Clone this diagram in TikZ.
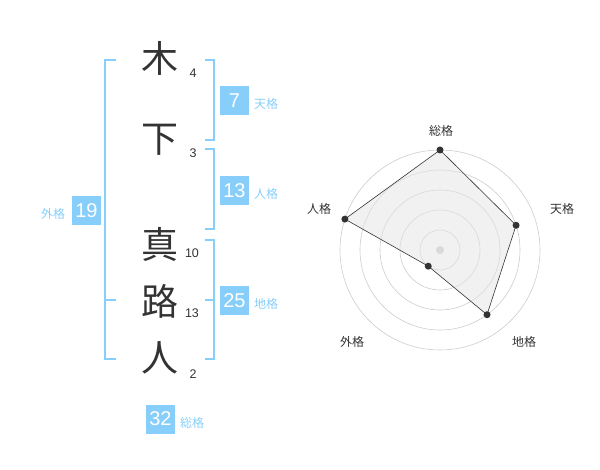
\documentclass[tikz,border=0pt]{standalone}
\usepackage{fontspec}
\setmainfont{Liberation Sans}
\newfontfamily\cjk{Noto Sans CJK JP}
\definecolor{kakublue}{HTML}{87CEFA}
\definecolor{inkgray}{HTML}{333333}
\definecolor{ringgray}{HTML}{CCCCCC}

\tikzset{
  kanji/.style={text=inkgray, font=\cjk\fontsize{37}{37}\selectfont, inner sep=0pt},
  strokes/.style={text=inkgray, font=\fontsize{12.5}{12.5}\selectfont, inner sep=0pt},
  kakubox/.style={fill=kakublue, text=white, minimum width=29pt, minimum height=29pt,
    inner sep=0pt, font=\fontsize{20}{20}\selectfont},
  kakulabel/.style={text=kakublue, font=\cjk\fontsize{12}{12}\selectfont, inner sep=0pt},
  bracket/.style={draw=kakublue, line width=2pt},
  ring/.style={draw=ringgray, line width=0.6pt},
  radarlabel/.style={text=inkgray, font=\cjk\fontsize{12}{12}\selectfont, inner sep=0pt},
  radardot/.style={circle, fill=inkgray, inner sep=0pt, minimum size=7pt}
}

\begin{document}
\begin{tikzpicture}[x=1pt,y=-1pt]
\useasboundingbox (0,0) rectangle (600,470);

% name
\node[kanji] (k1) at (160,58) {木};
\node[kanji] (k2) at (160,140) {下};
\node[kanji] (k3) at (160,244) {真};
\node[kanji] (k4) at (160,301) {路};
\node[kanji] (k5) at (160,358) {人};

\node[strokes] (s1) at (193,73) {4};
\node[strokes] (s2) at (193,153) {3};
\node[strokes] (s3) at (192,253) {10};
\node[strokes] (s4) at (192,313) {13};
\node[strokes] (s5) at (193,374) {2};

% brackets
\draw[bracket] (116,60) -- (105,60) -- (105,359) -- (116,359);
\draw[bracket] (105,300) -- (116,300);
\draw[bracket] (205,60) -- (214,60) -- (214,140) -- (205,140);
\draw[bracket] (205,149) -- (214,149) -- (214,229) -- (205,229);
\draw[bracket] (205,240) -- (214,240) -- (214,359) -- (205,359);
\draw[bracket] (205,300) -- (214,300);

% kaku
\node[kakubox] (ten) at (234.5,100.5) {7};
\node[kakulabel] (tenl) at (266,104) {天格};
\node[kakubox] (jin) at (234.5,190.5) {13};
\node[kakulabel] (jinl) at (266,194) {人格};
\node[kakubox] (chi) at (234.5,300.5) {25};
\node[kakulabel] (chil) at (266,304) {地格};
\node[kakubox] (gai) at (86.5,210.5) {19};
\node[kakulabel] (gail) at (53,213.5) {外格};
\node[kakubox] (sou) at (160.5,419) {32};
\node[kakulabel] (soul) at (192,423) {総格};

% radar
\begin{scope}[shift={(440,250)}, yscale=-1]
\foreach \r in {20,40,...,100}
  \draw[ring] (0,0) circle (\r);
\fill[ringgray] (0,0) circle (4);
\coordinate (rsou) at (90:100);
\coordinate (rten) at (18:80);
\coordinate (rchi) at (-54:80);
\coordinate (rgai) at (234:20);
\coordinate (rjin) at (162:100);
\draw[inkgray, line width=0.6pt, fill=gray!20, fill opacity=0.55]
  (rsou) -- (rten) -- (rchi) -- (rgai) -- (rjin) -- cycle;
\foreach \p in {rsou,rten,rchi,rgai,rjin}
  \node[radardot] at (\p) {};
\end{scope}

\node[radarlabel] (lsou) at (441,131) {総格};
\node[radarlabel] (lten) at (562,209) {天格};
\node[radarlabel] (lchi) at (524,342) {地格};
\node[radarlabel] (lgai) at (352,342) {外格};
\node[radarlabel] (ljin) at (319,209) {人格};

\end{tikzpicture}
\end{document}
